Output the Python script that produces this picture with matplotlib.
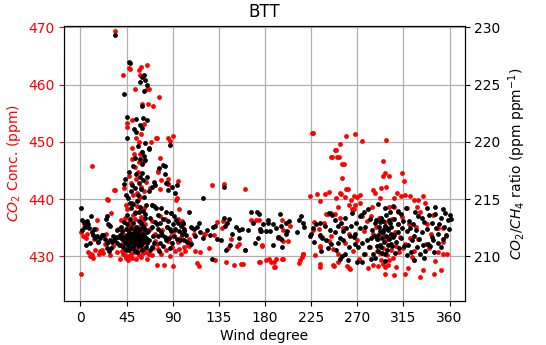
import matplotlib
matplotlib.use("Agg")
import matplotlib.pyplot as plt
import numpy as np

# CO2 concentration observations: (wind degree, ppm)
co2_obs = [
    (0.9,427.0),(1,434.3),(2.1,433.6),(3,435.2),(4,436.0),(5,433.2),(6.9,433.9),(7.5,430.8),(9,430.0),(10,430.4),(10.9,445.8),(11,430.2),(12,429.8),(13,433.0),(14,431.2),(15,434.8),(16,436.3),(17,432.6),(18,430.5),(19.5,430.9),(21,431.2),(22.5,430.6),(24,432.2),(25,434.0),(26.4,440.0),(27,432.5),(27.3,439.9),(28,435.5),(29,430.3),(30,437.6),(31.5,431.9),(32.4,441.6),(33.5,441.6),(34.1,469.4),(35,433.3),(36,430.7),(37,434.8),(38,432.0),(39,429.6),(40,436.4),
    (40.5,431.0),(41.2,430.5),(41.5,434.0),(42,432.3),(42.8,441.9),(43,430.2),(43.5,436.8),(44,433.5),(44.5,429.7),(45,432.8),(45.5,438.2),(46,431.4),(46.5,434.9),(47,430.0),(47.5,433.1),(48,436.0),(48.5,431.8),(49,430.4),(49.1,432.2),(49.5,435.4),(50,433.7),(50.5,429.8),(51,437.3),(51.5,431.5),(52,434.4),(52.5,430.7),(53,432.9),(53.5,436.6),(54,431.1),(54.5,429.5),(55,433.9),(55.5,438.8),(56,430.9),(56.5,432.6),(57,435.1),(57.5,430.3),(58,433.6),(58.5,437.9),(59,431.7),(59.5,429.9),(60,434.2),(60.5,432.1),(61,430.6),(61.5,436.4),(62,433.0),(62.5,431.3),(63,435.6),(63.3,430.7),(64,432.8),(64.5,429.6),(65,434.6),(66.4,430.5),(44,438.9),(50,439.4),(56,439.9),(62,438.4),(47,435.9),(53,437.8),(59,436.9),(46,429.3),
    (41.9,461.6),(47.5,462.9),(48.1,462.7),(56.9,462.6),(59.4,463.0),(64.8,463.4),(58.5,461.6),(53.3,459.3),(65,459.3),(60.1,456.6),(65.5,456.6),(45,453.3),(45,452.6),(50.7,453.9),(61.7,453.1),(53.8,450.7),(59.4,451.4),(50.7,449.0),(56.9,449.9),(52.2,447.9),(58.5,447.9),(50,447.0),(61.7,446.7),(60.1,448.2),(57.4,446.5),(51.2,440.7),(54,443.5),(56,444.8),(59,442.2),(62,441.4),(47,444.0),(53,445.6),(64,443.0),(55,441.0),(49,442.8),(58,440.4),
    (67.3,459.2),(68.9,449.9),(71.1,456.2),(73.9,450.7),(74.3,450.7),(76.5,457.9),(77.4,447.2),(76,444.7),(75.8,444.9),(78.2,443.3),(68.3,441.9),(77.6,441.8),(85.3,450.7),(90,451.1),(86.9,450.2),(85.3,443.6),(85.3,442.7),(85.8,442.6),(94.7,443.2),(94,440.2),(93.1,439.9),(94.7,436.5),(99.4,436.2),(77.4,437.0),(82.1,436.5),(72.7,432.7),(74.3,432.2),(85.3,432.7),(88.4,433.6),(89,431.6),(75.8,431.3),(69.5,430.2),(96.3,431.3),(97.8,430.5),(74.3,428.5),(81.2,428.5),(90,428.3),(66.4,430.5),(63.3,430.7),(68,434.8),(70,436.2),(71,431.5),(73,434.0),(79,430.4),(80,434.6),(83,431.2),(84,435.2),(87,430.0),(91,434.4),(92,430.9),(95,432.6),(98.2,433.4),(96,438.2),(88,437.6),(70,439.0),
    (101.4,431.7),(104.5,432.0),(106.1,433.1),(110.8,434.0),(111.5,431.0),(120.8,434.0),(130.3,433.8),(113.3,428.9),(115.5,428.4),(131.2,429.3),(128.7,442.5),(102.4,431.0),(105.5,431.8),(107.1,432.6),(109.2,434.9),(121.9,434.0),(100,435.6),(117,430.8),(125,431.5),(133,436.1),
    (140,442.7),(160.2,441.8),(139.1,436.2),(141.6,429.0),(156.4,428.7),(166.8,436.3),(152.3,431.8),(154.8,432.2),(176.8,432.0),(175.3,429.0),(171.2,436.4),(175.3,434.5),(183.8,429.5),(144.3,431.4),(138.1,434.9),(158.3,428.7),(160.8,431.1),(173.8,436.4),(176.9,431.9),(174.4,429.0),(188.7,429.1),(189.9,428.2),(196.4,436.4),(197.1,434.6),(194,433.4),(197.1,432.7),(204.8,435.3),(198,429.5),(214.1,429.4),(215.7,429.9),(217.2,430.5),(186,429.1),(190.9,429.6),(196.8,429.5),(188.5,428.2),(192.4,433.3),(202.2,432.7),(213,428.9),(216.8,430.5),(181,429.4),(147,433.0),(150,428.6),
    (223.4,440.5),(225.5,451.5),(227,451.5),(231.2,440.9),(233.4,439.6),(239,440.9),(242,441.3),(244.2,447.4),(245.2,447.3),(248.3,448.6),(249.5,448.5),(250.7,447.4),(251.8,447.3),(253.4,449.7),(255.4,446.2),(257,446.1),(255.4,443.7),(259.2,451.0),(267.4,451.4),(259.1,441.8),(252.9,441.1),(257.6,440.3),(260.9,441.7),(254.3,440.9),(249.5,440.2),(264.1,439.9),(269.7,440.3),(261.5,438.9),(267,438.2),(251.1,438.6),(241.3,437.4),(247.8,437.4),(253.4,436.7),(244.2,437.6),(239.9,437.5),(232.7,434.8),(235.8,433.4),(244.2,433.5),(226.6,434.7),(233.2,433.6),(256,435.0),(233.8,431.7),(246.2,431.3),(242.3,432.7),(233.4,431.8),(233.7,428.7),(246.7,428.5),(251.4,429.0),(260,428.3),(262.2,428.0),(233.4,428.2),(247.2,428.3),(263.2,427.9),(251.1,430.5),(273.1,439.3),(274.6,437.1),(264.4,438.3),(267.5,439.0),(228,436.0),(238,435.8),(262,434.0),(266,431.0),(270,432.8),(258,432.4),(229,430.2),(272,429.5),
    (274.7,450.1),(297.6,450.3),(295,446.7),(296.6,444.5),(295,444.1),(301.4,444.0),(293.5,442.0),(298.2,442.1),(313.3,444.6),(315.5,443.2),(285.7,441.6),(287.3,441.0),(292,440.2),(273.1,440.7),(266.9,440.5),(309.2,441.0),(312.3,440.6),(317,440.7),(321.7,440.5),(324.9,439.9),(329.6,439.9),(334.3,440.5),(335.9,439.3),(328,438.7),(318.6,438.5),(306.1,438.7),(301.4,438.7),(284.1,438.7),(279.4,436.2),(276.3,434.5),(285.7,433.9),(282.6,431.6),(288.8,431.0),(295,428.7),(293.5,429.3),(296.6,428.2),(301.4,429.3),(280.4,428.0),(285.7,428.5),(306.1,426.7),(316.5,426.9),(325,429.3),(331.1,426.5),(334.3,427.6),(345.3,427.0),(351.6,427.6),(348.5,430.7),(353.2,430.4),(357.9,430.4),(353.2,432.5),(356.4,433.6),(353.2,435.0),(342.1,433.9),(337.4,432.2),(329.6,433.0),(321.7,433.3),(317,432.2),(325,431.0),(323.3,429.9),
    (288,435.2),(290,433.0),(291,436.8),(292,430.6),(294,434.0),(295,431.5),(297,436.0),(298,432.8),(299,430.2),(300,434.8),(302,433.5),(303,431.2),(304,436.5),(305,429.8),(307,434.2),(308,431.8),(310,435.6),(311,430.8),(312,433.4),(314,436.9),(315,431.4),(320,435.7),(327,435.2),(331,437.8),(338,435.6),(340,431.5),(344,437.2),(349,434.9),(346,429.2),(283,437.0),(278,430.5),(300,428.6),(297,426.9),(308,428.2),(319,428.0),(290,428.4),(310,437.8),(306,440.2),
]

# CO2/CH4 ratio observations: (wind degree, ratio)
ratio_obs = [
    (0.9,214.2),(1.5,213.2),(3,212.9),(2,212.3),(4,212.6),(6.9,213.1),(7.5,212.8),(8.1,212.5),(10.5,213.5),(11.1,212.1),(12,211.9),(13,212.4),(14.5,211.6),(16,211.8),(17.5,211.3),(19,211.6),(5,211.0),(9,211.2),
    (21,211.9),(22.5,211.9),(24,211.5),(25.5,213.5),(24.9,213.3),(27,212.8),(28.5,212.7),(25.5,210.7),(27.9,210.5),(30,210.7),(31,211.3),(32,211.8),(33,211.4),(34.5,211.7),(35.5,211.2),(36,212.3),(37.5,211.7),(38.5,211.0),(39,211.9),(34.1,229.3),(39.5,212.6),(29,211.4),(26,211.2),
    (40.5,211.5),(41,212.2),(41.5,210.8),(42,211.7),(42.5,213.0),(43,211.2),(43.5,211.5),(44,212.4),(44.5,210.6),(45,211.9),(45.5,212.8),(46,211.3),(46.5,210.9),(47,212.1),(47.5,211.6),(48,213.3),(48.5,211.0),(49,212.5),(49.5,211.8),(50,210.7),(50.5,212.0),(51,211.4),(51.5,212.9),(52,211.1),(52.5,211.7),(53,212.3),(53.5,210.5),(54,211.9),(54.5,212.6),(55,211.2),(55.5,211.6),(56,212.2),(56.5,210.9),(57,211.5),(57.5,213.1),(58,211.8),(58.5,212.4),(59,211.0),(59.5,211.7),(60,212.0),(60.5,210.6),(61,211.3),(61.5,212.7),(62,211.9),(62.5,211.4),(63,212.3),(63.5,210.8),(64,211.6),(64.5,212.1),(65,211.2),
    (44,211.4),(46,211.8),(48,212.0),(50,211.3),(52,212.0),(54,211.4),(56,211.9),(58,211.2),(60,211.5),(62,212.5),(47,210.6),(51,210.8),(55,210.4),(59,212.9),(63,213.4),(45,213.6),(53,213.8),(57,213.9),(49,214.2),(61,214.0),
    (42.5,224.2),(48.1,226.9),(47.5,227.0),(60.5,225.7),(58.3,225.2),(62.7,225.4),(61.7,225.8),(64.8,225.0),(62.1,224.4),(60.5,223.1),(45.9,222.2),(54.3,222.0),(61.4,222.1),(65.2,221.9),(59.6,221.2),(52.1,221.1),(54.3,220.9),(45.9,220.3),(58.5,221.5),(59.6,219.1),(62.1,218.8),(58.5,218.5),(63.3,218.4),(60.5,218.1),(51.2,217.9),(47.2,217.4),(54.3,217.2),(43.4,216.8),(58.3,216.9),(61.4,216.7),(65.2,216.9),(42.8,216.3),(49,215.7),(53,216.0),(56,215.4),(59,215.9),(62,215.2),(46,215.1),(51,214.6),(55,214.8),(57,216.4),(60,217.3),(63,219.9),(56,219.6),(53,218.6),(50,216.2),(44,215.4),(48,214.7),(64,214.5),(58,214.3),
    (66.7,219.5),(67.3,219.4),(71.4,216.5),(77,217.7),(82.2,217.9),(80.6,218.0),(82.1,217.2),(84.7,216.4),(83.8,216.4),(85.3,215.8),(87.8,219.7),(89.2,216.1),(94,216.2),(92.5,215.5),(66.4,215.7),(69.5,216.1),(72.7,216.2),(69.5,214.5),(73.3,214.2),(71.4,214.4),(79,214.2),(83.7,213.9),(88.4,213.8),(91,213.5),(95,212.9),(98,212.7),(85.3,213.1),(86.9,212.4),(74.3,212.8),(75.8,212.4),(79,212.1),(82.1,211.7),(83.7,211.4),(77.4,211.2),(69.5,210.8),(68,210.6),(75.2,211.8),(71.1,211.8),(63.2,213.7),(68,213.4),(66,212.2),(67,211.4),(70,212.6),(72,211.2),(73,213.0),(76,213.6),(78,212.9),(80,211.9),(81,213.3),(84,212.6),(86,211.6),(88,212.2),(89,211.2),(90,212.8),(91,211.8),(92,212.4),(93,213.2),(94,211.5),(96,212.2),(97,211.4),(99,212.0),(87,210.7),(77,210.5),(81,210.9),
    (101,212.2),(101,211.4),(99.8,212.9),(101.4,212.4),(102.9,211.9),(105.4,213.9),(107.6,212.6),(110.8,212.4),(113.3,212.6),(115.5,212.9),(108.2,211.1),(104.1,211.3),(119.6,215.1),(112,211.8),(117,212.1),(120,211.6),(123,212.3),(126,211.9),(128.7,209.8),(129.6,212.6),(131.2,212.7),(133,211.5),
    (140,216.1),(140.3,213.4),(141.3,212.7),(142.9,212.9),(137.1,211.4),(142.2,210.6),(151.7,212.6),(154.2,212.3),(158,212.4),(154.2,211.6),(160.5,210.6),(166.8,213.9),(172.1,213.9),(173.7,213.7),(168.2,212.9),(175.3,212.4),(176.2,212.2),(173.1,211.6),(170,211.2),(183.1,213.2),(184.5,212.2),(182.6,212.9),(181,212.2),(187.5,212.8),(190.7,212.5),(194.7,213.7),(195.3,212.7),(200.2,212.9),(203.8,213.1),(192.4,211.7),(195.3,211.5),(200.2,212.0),(201.9,212.2),(188,211.0),(197,210.8),(213.6,213.2),(216.8,212.9),(215,213.5),(218,212.6),(211,212.1),(148,212.0),(146,211.0),(163,212.3),(178,212.8),(145,213.3),
    (223.4,211.8),(226.6,212.5),(225,212.0),(228,211.3),(230,212.8),(233.2,212.9),(238.1,212.7),(233.2,211.9),(239.7,211.4),(241.3,210.7),(244.6,211.1),(247.8,213.2),(251.1,212.7),(254.3,212.9),(256,212.2),(259.2,212.5),(262.5,211.8),(247.8,212.1),(251.1,211.2),(256,211.4),(264.1,212.7),(269,212.9),(272.3,212.5),(267.4,211.1),(257.6,210.2),(252.7,209.8),(260.9,209.7),(270,209.5),(236,211.6),(243,212.3),(249,210.6),(245,213.6),(258,213.4),(262,210.8),(265,213.8),(268,212.0),(271,210.8),(274,213.6),(255,210.0),(242,213.8),(235,210.5),(253,211.6),
    (280,214.1),(273,213.5),(266.9,211.7),(274.7,211.2),(281,210.8),(276.3,210.2),(274.7,209.5),(285.7,210.2),(288.9,211.5),(292,212.2),(295.2,213.1),(296.8,214.2),(301.5,213.9),(293.6,210.8),(296.8,210.2),(303,211.1),(306.2,211.9),(309.3,212.8),(312.5,213.7),(317.2,214.2),(320.4,213.1),(318.8,212.2),(323.5,211.4),(328.2,210.8),(331.4,210.2),(326.6,213.9),(332.9,213.4),(337.6,214.2),(345.5,214.3),(353.4,214.1),(351.8,213.4),(347.1,212.5),(342.4,211.7),(348.7,212.0),(339.2,211.1),(336,210.5),(353.4,211.5),
    (284,212.3),(286,211.8),(287,212.9),(289,210.9),(290,211.9),(291,212.6),(292,211.0),(293,213.4),(294,211.6),(295,212.1),(296,211.3),(297,212.7),(298,211.8),(299,210.6),(300,212.3),(301,211.5),(302,212.9),(303,212.0),(304,210.9),(305,211.7),(298,213.6),(300,211.0),(296,212.4),(294,210.3),(292,213.0),(290,210.5),(288,213.2),(299,212.5),(301,213.2),(303,212.6),(306,213.3),(308,211.3),(310,212.1),(311,210.7),(313,211.6),(314,212.5),(316,210.9),(315,213.1),(319,211.0),(321,212.5),(322,210.4),(324,212.8),(325,211.8),(327,212.3),(329,213.5),(330,211.5),(333,212.1),(334,211.0),(335,213.0),(338,212.4),(340,213.6),(341,210.9),(343,212.9),(344,211.4),(346,213.7),(349,211.2),(350,212.8),(352,210.8),(355,212.6),(356,213.8),(357,211.9),(358,213.2),(359,212.4),(360,213.6),(361,213.3),(278,212.6),(279,211.4),(282,213.3),(277,213.9),(283,209.8),(287,209.9),(297,209.6),(307,210.3),(318,210.1),(325,209.7),(345,210.4),(335,209.9),(305,214.4),(310,214.0),(290,214.6),(283,211.6),
]

x_ticks = [0, 45, 90, 135, 180, 225, 270, 315, 360]
title = "BTT"

co2_deg = np.array([p[0] for p in co2_obs])
co2_val = np.array([p[1] for p in co2_obs])
rat_deg = np.array([p[0] for p in ratio_obs])
rat_val = np.array([p[1] for p in ratio_obs])

fig = plt.figure(figsize=(5.46, 3.45), dpi=100)
ax1 = fig.add_axes([0.118, 0.127, 0.733, 0.799])
ax1.scatter(co2_deg, co2_val, s=12, color="red", linewidths=0, zorder=3)
ax1.set_xlim(-15.6, 374.7)
ax1.set_ylim(422.2, 470.3)
ax1.set_xticks(x_ticks)
ax1.set_yticks([430, 440, 450, 460, 470])
ax1.grid(True, color="#b0b0b0", linewidth=0.9)
ax1.set_axisbelow(True)
ax1.set_xlabel("Wind degree", labelpad=3)
ax1.set_ylabel(r"$CO_2$ Conc. (ppm)", color="red")
ax1.tick_params(axis="y", colors="red")
ax1.spines["left"].set_color("black")
ax1.set_title(title, fontsize=12)

ax2 = ax1.twinx()
ax2.scatter(rat_deg, rat_val, s=12, color="black", linewidths=0, zorder=3)
ax2.set_ylim(206.1, 230.15)
ax2.set_yticks([210, 215, 220, 225, 230])
ax2.set_ylabel(r"$CO_2/CH_4$ ratio (ppm ppm$^{-1}$)")

fig.savefig("out.png", dpi=100)
